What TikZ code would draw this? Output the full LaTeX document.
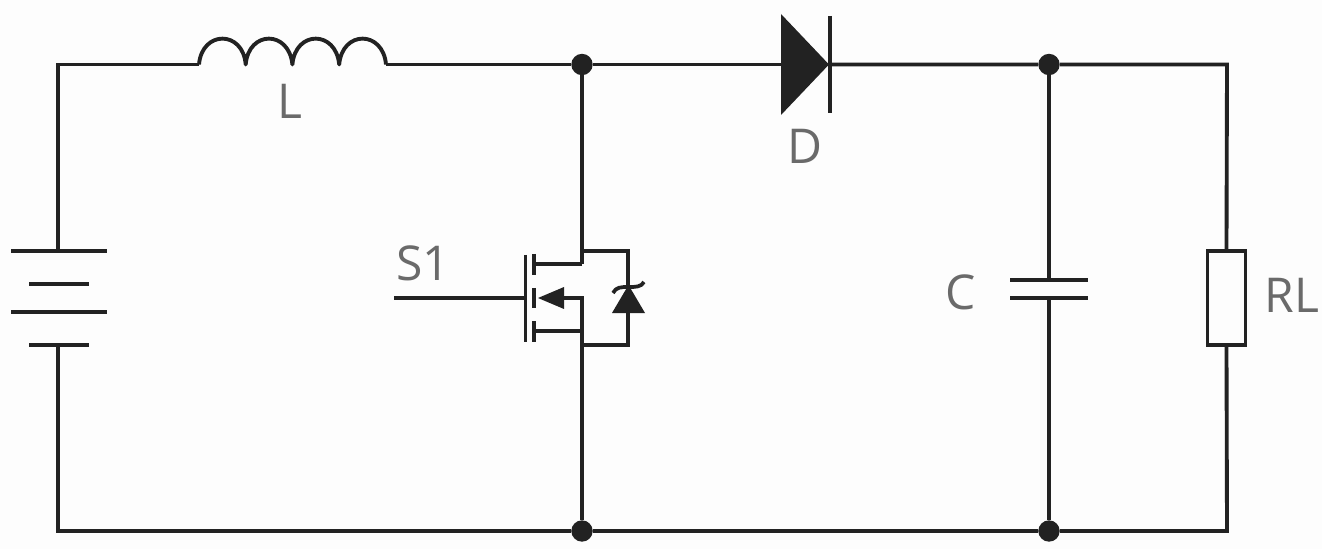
\documentclass[tikz,border=0pt]{standalone}
\usepackage{fontspec}
\setmainfont{Open Sans}
\definecolor{wirec}{HTML}{222222}
\definecolor{labelc}{HTML}{6A6A6A}
\definecolor{paperc}{HTML}{FDFDFD}
\tikzset{
  wire/.style={draw=wirec,line width=2.9pt,line cap=butt,line join=miter},
  thinwire/.style={draw=wirec,line width=2.8pt},
  junction/.style={circle,fill=wirec,draw=none,minimum size=16pt,inner sep=0pt},
  lab/.style={text=labelc,font=\fontsize{36}{36}\selectfont,inner sep=0pt},
  resbox/.style={draw=wirec,line width=2.9pt,fill=none,minimum width=28.5pt,minimum height=70.5pt,inner sep=0pt}
}
\begin{document}
\begin{tikzpicture}[x=0.75pt,y=-0.75pt]
\useasboundingbox (0,0) rectangle (1322,549);
\fill[paperc] (0,0) rectangle (1322,549);
% named points
\coordinate (tl) at (58,64.5);
\coordinate (bl) at (58,531);
\coordinate (tr) at (1227,64.5);
\coordinate (br) at (1227,531);
\coordinate (Lin) at (199,64.5);
\coordinate (Lout) at (386,64.5);
\coordinate (Din) at (781,64.5);
\coordinate (Dout) at (830,64.5);
\coordinate (batP) at (58,251);
\coordinate (batN) at (58,345);
\coordinate (capT) at (1049,280);
\coordinate (capB) at (1049,298);
\coordinate (mosT) at (582,264);
\coordinate (mosS) at (582,331);
\coordinate (gateIn) at (394,298);
\coordinate (gateBar) at (525.5,298);
\node[junction] (n1) at (582,64.5) {};
\node[junction] (n2) at (1049,64.5) {};
\node[junction] (n3) at (582,531) {};
\node[junction] (n4) at (1049,531) {};
\node[resbox] (RL) at (1226.5,298) {};
% wires
\draw[wire] (Lin) -- (tl) -- (batP);
\draw[wire] (batN) -- (bl) -- (n3) -- (n4) -- (br) -- (RL.south);
\draw[wire] (Lout) -- (n1) -- (Din);
\draw[wire] (Dout) -- (n2) -- (tr) -- (RL.north);
\draw[wire] (n1) -- (mosT);
\draw[wire] (mosS) -- (n3);
\draw[wire] (n2) -- (capT);
\draw[wire] (capB) -- (n4);
% inductor
\draw[wire,line join=round] (Lin) .. controls (202,30) and (243,30) .. (245.7,64.5)
  .. controls (248.7,30) and (289,30) .. (292.4,64.5)
  .. controls (295.4,30) and (336,30) .. (339.2,64.5)
  .. controls (342.2,30) and (383,30) .. (Lout);
% diode
\fill[wirec] (Din |- 0,14) -- (829,64.5) -- (Din |- 0,115) -- cycle;
\draw[thinwire] (Dout |- 0,16) -- (Dout |- 0,113);
% battery
\draw[thinwire] (11,251) -- (107,251);
\draw[thinwire] (29,284) -- (89,284);
\draw[thinwire] (11,312) -- (107,312);
\draw[thinwire] (29,345) -- (89,345);
% capacitor
\draw[wire] (1010,280) -- (1088,280);
\draw[wire] (1010,298) -- (1088,298);
% MOSFET
\draw[wire] (gateIn) -- (gateBar);
\draw[thinwire] (525.5,255) -- (525.5,342);
\draw[thinwire] (534,254) -- (534,275);
\draw[thinwire] (534,288) -- (534,308);
\draw[thinwire] (534,321) -- (534,342);
\draw[thinwire] (534,264) -- (mosT);
\draw[thinwire] (534,331) -- (mosS);
\draw[thinwire] (582,331) -- (582,298) -- (560,298);
\fill[wirec] (538,298) -- (564,287) -- (564,309) -- cycle;
\draw[thinwire] (582,251) -- (628,251) -- (628,345) -- (582,345);
\fill[wirec] (628.5,285) -- (645,313) -- (612,313) -- cycle;
\draw[thinwire] (613,293) .. controls (616,287) and (621,287) .. (628.5,287) .. controls (636,287) and (641,287) .. (644,282);
% labels
\node[lab] (labL) at (290,101) {L};
\node[lab] (labD) at (805,146) {D};
\node[lab] (labS) at (423,263) {S1};
\node[lab] (labC) at (961,292) {C};
\node[lab] (labR) at (1292,295) {RL};
\end{tikzpicture}
\end{document}
